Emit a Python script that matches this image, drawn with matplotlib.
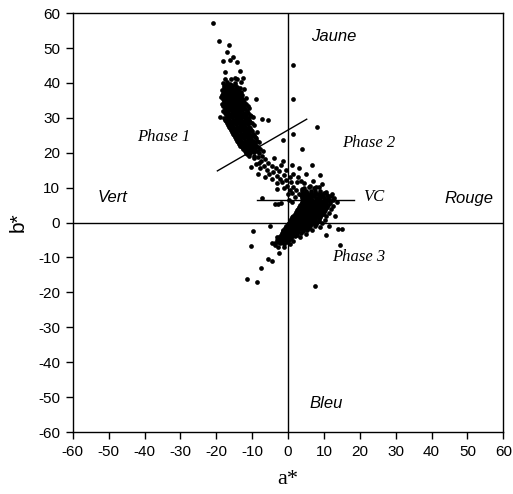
import numpy as np
import matplotlib.pyplot as plt

plt.rcParams['axes.unicode_minus'] = False

# a*, b* colour coordinates
# Phase 1 dense cloud
phase1_pts = [
    (-17.5, 41), (-15.8, 41), (-14.2, 41.2),
    (-18.2, 40), (-17.0, 40.2), (-16.1, 39.8), (-14.9, 40), (-13.2, 40.3),
    (-17.2, 39.5), (-16.0, 39.5), (-14.8, 39.5),
    (-17.8, 39), (-16.6, 39), (-15.5, 39.1), (-14.3, 38.9),
    (-17.9, 38.5), (-16.8, 38.5), (-15.7, 38.5), (-14.6, 38.5), (-13.3, 38.5),
    (-18.4, 38), (-17.3, 38), (-16.2, 37.9), (-15.2, 38.1), (-13.9, 38), (-12.4, 38.2),
    (-17.7, 37.5), (-16.6, 37.5), (-15.5, 37.5), (-14.4, 37.5), (-13.2, 37.5),
    (-18.0, 37), (-16.9, 37), (-15.8, 37.1), (-14.7, 36.9), (-13.6, 37),
    (-18.3, 36.5), (-17.2, 36.5), (-16.1, 36.5), (-15.0, 36.5), (-13.9, 36.5), (-12.7, 36.5),
    (-18.6, 36), (-17.5, 36), (-16.4, 36.1), (-15.3, 35.9), (-14.2, 36), (-13.1, 36.1), (-11.8, 35.8),
    (-18.2, 35.5), (-17.1, 35.5), (-16.0, 35.5), (-14.9, 35.5), (-13.8, 35.5), (-12.7, 35.5),
    (-17.9, 35), (-16.8, 35), (-15.8, 35.1), (-14.7, 34.9), (-13.6, 35), (-12.5, 35.1),
    (-17.9, 34.5), (-16.8, 34.5), (-15.7, 34.5), (-14.6, 34.5), (-13.5, 34.5), (-12.3, 34.5),
    (-18.3, 34), (-17.2, 34), (-16.2, 34.1), (-15.1, 33.9), (-14.0, 34), (-12.9, 34.1), (-11.6, 33.9),
    (-18.0, 33.5), (-16.9, 33.5), (-15.8, 33.5), (-14.7, 33.5), (-13.6, 33.5), (-12.5, 33.5), (-11.3, 33.5),
    (-17.7, 33), (-16.6, 33), (-15.6, 33.1), (-14.5, 32.9), (-13.4, 33), (-12.3, 33.1), (-10.9, 32.8),
    (-17.5, 32.5), (-16.4, 32.5), (-15.3, 32.5), (-14.2, 32.5), (-13.1, 32.5), (-12.0, 32.5),
    (-18.0, 32), (-17.0, 32), (-15.9, 32.1), (-14.8, 31.9), (-13.8, 32), (-12.7, 32.1), (-11.5, 31.9),
    (-17.7, 31.5), (-16.7, 31.5), (-15.6, 31.5), (-14.5, 31.5), (-13.4, 31.5), (-12.3, 31.5), (-11.1, 31.5),
    (-17.4, 31), (-16.4, 31), (-15.3, 31.1), (-14.2, 30.9), (-13.1, 31), (-12.0, 31.1), (-10.6, 30.8),
    (-17.1, 30.5), (-16.0, 30.5), (-14.9, 30.5), (-13.8, 30.5), (-12.7, 30.5), (-11.6, 30.5), (-10.3, 30.5),
    (-17.9, 30), (-16.8, 30), (-15.7, 30.1), (-14.6, 29.9), (-13.5, 30), (-12.4, 30.1), (-11.2, 29.9), (-9.8, 30.2),
    (-17.5, 29.5), (-16.4, 29.5), (-15.3, 29.5), (-14.2, 29.5), (-13.1, 29.5), (-12.0, 29.5), (-10.8, 29.5),
    (-17.2, 29), (-16.1, 29), (-15.0, 29.1), (-13.9, 28.9), (-12.8, 29), (-11.7, 29.1), (-10.5, 28.8),
    (-16.9, 28.5), (-15.8, 28.5), (-14.7, 28.5), (-13.6, 28.5), (-12.5, 28.5), (-11.4, 28.5), (-10.1, 28.5),
    (-16.7, 28), (-15.6, 28), (-14.5, 28.1), (-13.4, 27.9), (-12.3, 28), (-11.1, 28.1), (-9.6, 27.8),
    (-16.4, 27.5), (-15.3, 27.5), (-14.2, 27.5), (-13.1, 27.5), (-12.0, 27.5), (-10.8, 27.5),
    (-16.1, 27), (-15.0, 27), (-13.9, 27.1), (-12.8, 26.9), (-11.7, 27), (-10.5, 27.1),
    (-15.9, 26.5), (-14.8, 26.5), (-13.7, 26.5), (-12.6, 26.5), (-11.5, 26.5), (-10.3, 26.5),
    (-15.6, 26), (-14.5, 26), (-13.4, 26.1), (-12.3, 25.9), (-11.2, 26), (-10.0, 26.1), (-8.6, 25.8),
    (-15.3, 25.5), (-14.2, 25.5), (-13.1, 25.5), (-12.0, 25.5), (-10.9, 25.5), (-9.8, 25.5),
    (-15.1, 25), (-14.0, 25), (-12.9, 25.1), (-11.8, 24.9), (-10.7, 25), (-9.5, 25.1),
    (-14.8, 24.5), (-13.7, 24.5), (-12.6, 24.5), (-11.5, 24.5), (-10.4, 24.5), (-9.2, 24.5),
    (-14.6, 24), (-13.5, 24), (-12.4, 24.1), (-11.3, 23.9), (-10.2, 24), (-8.9, 24.1),
    (-14.3, 23.5), (-13.2, 23.5), (-12.1, 23.5), (-11.0, 23.5), (-9.9, 23.5), (-8.7, 23.5),
    (-14.0, 23), (-12.9, 23), (-11.8, 23.1), (-10.7, 22.9), (-9.6, 23), (-8.2, 23.2),
    (-13.6, 22.5), (-12.5, 22.5), (-11.4, 22.5), (-10.3, 22.5), (-9.2, 22.5),
    (-13.3, 22), (-12.2, 22), (-11.1, 22.1), (-10.0, 21.9), (-8.9, 22),
    (-12.9, 21.5), (-11.8, 21.5), (-10.7, 21.5), (-9.6, 21.5), (-8.5, 21.5),
    (-12.6, 21), (-11.5, 21), (-10.4, 21.1), (-9.3, 20.9), (-7.8, 21.2),
    (-12.0, 20.5), (-10.9, 20.5), (-9.8, 20.5), (-8.7, 20.5),
    (-11.6, 20), (-10.5, 20), (-9.4, 20.1), (-8.2, 19.8),
    (-10.8, 19), (-9.6, 19), (-8.5, 18.8), (-7.2, 19.2),
]

# Phase 2 transition trail
phase2_pts = [
    (-9.5, 18.5), (-8.2, 17.2), (-7.5, 17.6), (-8.8, 16.8), (-6.3, 18.1), (-6.8, 16.2),
    (-5.5, 17.0), (-7.8, 15.5), (-5.9, 15.1), (-4.6, 16.3), (-4.2, 14.6), (-5.2, 13.8),
    (-3.4, 15.5), (-3.1, 13.4), (-2.4, 14.8), (-4.5, 12.6), (-2.2, 12.5), (-1.2, 13.6),
    (-1.6, 11.5), (-0.6, 12.2), (-3.0, 11.2), (-0.2, 10.6), (0.8, 11.6), (-1.0, 9.8),
    (0.5, 9.4), (1.5, 10.3), (1.2, 8.5), (2.3, 9.2), (0.0, 8.2), (2.0, 7.4), (3.1, 8.1),
    (-6.5, 13.0), (-8.5, 14.0), (-2.0, 16.5), (-0.5, 15.0), (1.5, 14.0), (3.5, 12.0),
    (2.5, 11.5), (4.0, 9.5), (3.8, 7.0), (5.0, 8.5), (-11.5, 19.5), (-10.2, 16.0),
    (-7.0, 20.5), (-4.0, 18.5), (1.0, 16.5), (-3.0, 9.5), (0.2, 6.5), (1.2, 6.0),
    (6.6, 16.5), (8.9, 13.6), (5.0, 14.0), (7.0, 12.0), (9.5, 11.0), (6.0, 10.5),
    (2.8, 13.0), (4.5, 11.2), (7.8, 10.2), (3.0, 15.5), (-1.5, 17.5), (0.5, 13.0),
]

# Phase 3 cloud around the origin
phase3_pts = [
    (4.5, 10), (5.8, 10.2), (7.2, 9.9), (8.6, 10.1),
    (3.8, 9), (5.0, 9.1), (6.3, 8.9), (7.5, 9), (8.9, 9.1), (10.5, 8.8),
    (4.1, 8.5), (5.2, 8.5), (6.4, 8.5), (7.6, 8.5), (8.8, 8.5), (10.0, 8.5),
    (3.5, 8), (4.6, 8.1), (5.8, 7.9), (7.0, 8), (8.2, 8.1), (9.4, 7.9), (10.8, 8), (12.3, 8.2),
    (3.9, 7.5), (5.0, 7.5), (6.1, 7.5), (7.3, 7.5), (8.5, 7.5), (9.7, 7.5), (11.0, 7.5), (12.0, 7.5),
    (4.2, 7), (5.4, 7.1), (6.5, 6.9), (7.7, 7), (8.9, 7.1), (10.0, 6.9), (11.2, 7), (12.8, 7.1),
    (4.6, 6.5), (5.7, 6.5), (6.8, 6.5), (7.9, 6.5), (9.0, 6.5), (10.2, 6.5), (11.4, 6.5), (12.6, 6.5),
    (4.0, 6), (5.1, 6.1), (6.2, 5.9), (7.3, 6), (8.4, 6.1), (9.5, 5.9), (10.6, 6), (11.8, 6.1), (13.6, 5.8),
    (3.8, 5.5), (4.9, 5.5), (6.0, 5.5), (7.1, 5.5), (8.2, 5.5), (9.3, 5.5), (10.4, 5.5), (11.6, 5.5),
    (3.4, 5), (4.5, 5.1), (5.6, 4.9), (6.7, 5), (7.8, 5.1), (8.9, 4.9), (10.0, 5), (11.1, 5.1), (12.5, 4.8),
    (3.1, 4.5), (4.2, 4.5), (5.3, 4.5), (6.4, 4.5), (7.5, 4.5), (8.6, 4.5), (9.7, 4.5), (10.9, 4.5),
    (2.8, 4), (3.9, 4.1), (5.0, 3.9), (6.1, 4), (7.2, 4.1), (8.3, 3.9), (9.4, 4), (10.5, 4.1), (11.9, 3.8),
    (2.6, 3.5), (3.7, 3.5), (4.8, 3.5), (5.9, 3.5), (7.0, 3.5), (8.1, 3.5), (9.2, 3.5), (10.3, 3.5),
    (2.2, 3), (3.3, 3.1), (4.4, 2.9), (5.5, 3), (6.6, 3.1), (7.7, 2.9), (8.8, 3), (9.9, 3.1), (11.3, 2.8),
    (1.9, 2.5), (3.0, 2.5), (4.1, 2.5), (5.2, 2.5), (6.3, 2.5), (7.4, 2.5), (8.5, 2.5), (9.7, 2.5),
    (1.5, 2), (2.6, 2.1), (3.7, 1.9), (4.8, 2), (5.9, 2.1), (7.0, 1.9), (8.1, 2), (9.3, 2.1), (10.6, 1.8),
    (1.2, 1.5), (2.3, 1.5), (3.4, 1.5), (4.5, 1.5), (5.6, 1.5), (6.7, 1.5), (7.8, 1.5), (9.0, 1.5),
    (0.9, 1), (2.0, 1.1), (3.1, 0.9), (4.2, 1), (5.3, 1.1), (6.4, 0.9), (7.5, 1), (8.7, 1.1), (10.2, 0.8),
    (0.6, 0.5), (1.7, 0.5), (2.8, 0.5), (3.9, 0.5), (5.0, 0.5), (6.1, 0.5), (7.2, 0.5), (8.5, 0.5),
    (0.3, 0), (1.4, 0.1), (2.5, -0.1), (3.6, 0), (4.7, 0.1), (5.8, -0.1), (6.9, 0), (8.2, 0.1), (9.6, -0.2),
    (-0.1, -0.5), (1.0, -0.5), (2.1, -0.5), (3.2, -0.5), (4.3, -0.5), (5.4, -0.5), (6.5, -0.5), (7.8, -0.5),
    (-0.6, -1), (0.6, -0.9), (1.7, -1.1), (2.8, -1), (3.9, -0.9), (5.0, -1.1), (6.1, -1), (7.4, -0.9), (8.9, -1.2),
    (-0.8, -1.5), (0.3, -1.5), (1.4, -1.5), (2.5, -1.5), (3.6, -1.5), (4.7, -1.5), (5.9, -1.5),
    (-1.3, -2), (-0.2, -1.9), (0.9, -2.1), (2.0, -2), (3.1, -1.9), (4.2, -2.1), (5.4, -2), (6.8, -2.2),
    (-1.5, -2.5), (-0.4, -2.5), (0.7, -2.5), (1.8, -2.5), (2.9, -2.5), (4.1, -2.5),
    (-1.8, -3), (-0.7, -2.9), (0.4, -3.1), (1.5, -3), (2.6, -2.9), (3.7, -3.1), (5.0, -3.2),
    (-2.1, -3.5), (-1.0, -3.5), (0.1, -3.5), (1.2, -3.5), (2.4, -3.5),
    (-2.6, -4), (-1.4, -3.9), (-0.3, -4.1), (0.8, -4), (1.9, -3.9), (3.2, -4.2),
    (-2.7, -4.5), (-1.6, -4.5), (-0.5, -4.5), (0.7, -4.5),
    (-3.2, -5), (-2.0, -4.9), (-0.9, -5.1), (0.2, -5), (1.4, -5.2),
    (-2.9, -5.5), (-1.7, -5.5), (-0.4, -5.5),
    (-3.5, -6), (-2.3, -5.9), (-1.0, -6.1), (0.5, -6.2),
    (-2.8, -7), (-1.2, -7.1),
]

# isolated points
outlier_pts = [
    (-20.9, 57.2), (-19.3, 52.1), (-16.4, 50.8), (-17.1, 48.9), (-18.2, 46.2),
    (-16.2, 46.6), (-15.4, 47.5), (-14.3, 46.1), (1.5, 45.1), (-13.4, 43.5),
    (-17.7, 43.1), (-12.5, 41.3), (-14.8, 41.3), (1.4, 35.3), (-8.9, 35.5),
    (-19.0, 30.3), (8.0, 27.3), (-7.3, 29.6), (-5.5, 29.4), (1.3, 25.4),
    (3.8, 21.0), (-1.3, 23.6), (-7.3, 6.9), (-3.6, 5.2), (-2.7, 5.3), (-2.0, 5.5),
    (-9.9, -2.3), (-10.4, -6.7), (-7.6, -13.1), (-11.4, -16.3), (-8.6, -17.0),
    (7.6, -18.1), (-5.5, -10.5), (-4.6, -10.9), (-2.4, -8.8), (-4.5, -6.0),
    (-3.6, -6.4), (-3.0, -4.1), (14.5, -6.4), (15.0, -1.9), (14.0, -1.9),
    (11.5, -1.0), (10.5, -3.5), (-5.0, -1.0), (13.0, 2.0),
]

# reference lines drawn on the figure
phase_line_a = [-19.7, 5.2]
phase_line_b = [14.8, 29.6]
vc_line_a = [-8.7, 18.5]
vc_line_b = [6.4, 6.4]

ticks = list(range(-60, 61, 10))

fig = plt.figure(figsize=(5.13, 4.94), dpi=100)
ax = fig.add_axes([0.142, 0.1255, 0.839, 0.848])

all_pts = np.array(phase1_pts + phase2_pts + phase3_pts + outlier_pts)
ax.plot(all_pts[:, 0], all_pts[:, 1], 'o', color='black', ms=3.4, mew=0)

# quadrant axes
ax.axhline(0, color='black', lw=1)
ax.axvline(0, color='black', lw=1)

ax.plot(phase_line_a, phase_line_b, color='black', lw=1)
ax.plot(vc_line_a, vc_line_b, color='black', lw=1)

sans = 'Liberation Sans'
serif = 'Liberation Serif'

ax.text(6.4, 53.2, 'Jaune', fontsize=12, style='italic', family=sans, va='center')
ax.text(-53.0, 7.3, 'Vert', fontsize=12, style='italic', family=sans, va='center')
ax.text(43.5, 7.0, 'Rouge', fontsize=12, style='italic', family=sans, va='center')
ax.text(6.1, -51.7, 'Bleu', fontsize=12, style='italic', family=sans, va='center')
ax.text(-42.1, 24.5, 'Phase 1', fontsize=12, style='italic', family=serif, va='center')
ax.text(15.0, 22.9, 'Phase 2', fontsize=12, style='italic', family=serif, va='center')
ax.text(12.2, -9.8, 'Phase 3', fontsize=12, style='italic', family=serif, va='center')
ax.text(21.0, 7.4, 'VC', fontsize=12, style='italic', family=serif, va='center')

ax.set_xlim(-60, 60)
ax.set_ylim(-60, 60)
ax.set_xticks(ticks)
ax.set_yticks(ticks)
ax.tick_params(direction='out', length=5, width=1, labelsize=11, pad=4)
for lab in ax.get_xticklabels() + ax.get_yticklabels():
    lab.set_family(sans)
for s in ax.spines.values():
    s.set_linewidth(1)

ax.set_xlabel('a*', fontsize=16, family=serif, labelpad=8)
ax.set_ylabel('b*', fontsize=15, family=sans, labelpad=8)

fig.savefig('out.png', dpi=100)
